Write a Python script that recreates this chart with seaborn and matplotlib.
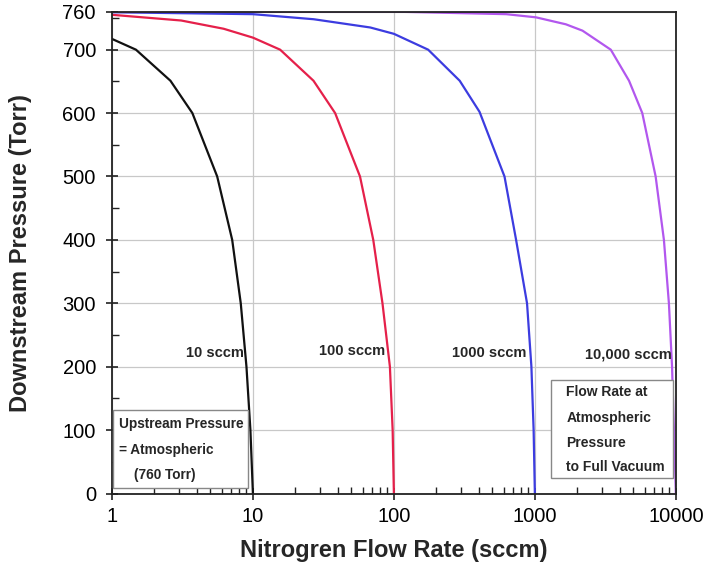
import numpy as np
import pandas as pd
import seaborn as sns
import matplotlib.pyplot as plt
from matplotlib.patches import Rectangle
from matplotlib.ticker import FixedLocator, NullFormatter, LogLocator

# ---------- data ----------
flow_10 = [1, 1.48, 2.6, 3.72, 5.58, 7.13, 8.2, 9.0, 9.6, 10]
press_10 = [717, 700, 651, 600, 500, 400, 300, 200, 100, 0]

flow_100 = [1, 3.1, 6.2, 10, 15.6, 26.9, 38.3, 57.5, 71.4, 83, 93.7, 98, 100]
press_100 = [755, 746, 733, 719, 700, 651, 600, 500, 400, 300, 200, 100, 0]

flow_1000 = [1, 10, 27, 68, 100, 175, 293, 405, 609, 736, 880, 945, 980, 1000]
press_1000 = [759, 756, 748, 735, 725, 700, 651, 602, 500, 400, 300, 200, 100, 0]

flow_10000 = [1, 100, 626, 1019, 1660, 2177, 3455, 4656, 5780, 7190, 8230, 8930, 9400, 9700, 10000]
press_10000 = [760, 760, 756, 751, 740, 730, 700, 651, 600, 500, 400, 300, 200, 100, 0]

series_names = ["10 sccm", "100 sccm", "1000 sccm", "10,000 sccm"]
series_colors = ["#111111", "#e5204a", "#3c3ce0", "#b257ee"]

df = pd.concat([
    pd.DataFrame({"flow": flow_10, "pressure": press_10, "series": series_names[0]}),
    pd.DataFrame({"flow": flow_100, "pressure": press_100, "series": series_names[1]}),
    pd.DataFrame({"flow": flow_1000, "pressure": press_1000, "series": series_names[2]}),
    pd.DataFrame({"flow": flow_10000, "pressure": press_10000, "series": series_names[3]}),
], ignore_index=True)

y_ticks = [0, 100, 200, 300, 400, 500, 600, 700, 760]
x_ticks = [1, 10, 100, 1000, 10000]
x_ticklabels = ["1", "10", "100", "1000", "10000"]

# ---------- plot ----------
sns.set_theme(style="white")
plt.rcParams["font.family"] = ["Liberation Sans", "DejaVu Sans"]

fig = plt.figure(figsize=(7.04, 5.73), dpi=100)
ax = fig.add_axes([0.159, 0.1387, 0.801, 0.841])

sns.lineplot(
    data=df, x="flow", y="pressure", hue="series",
    palette=dict(zip(series_names, series_colors)),
    sort=False, estimator=None, linewidth=1.6, legend=False, ax=ax
)

ax.set_xscale("log")
ax.set_xlim(1, 10000)
ax.set_ylim(0, 760)

ax.xaxis.set_major_locator(FixedLocator(x_ticks))
ax.set_xticklabels(x_ticklabels)
ax.xaxis.set_minor_locator(LogLocator(base=10, subs=np.arange(2, 10)))
ax.xaxis.set_minor_formatter(NullFormatter())
ax.set_yticks(y_ticks)
ax.yaxis.set_minor_locator(FixedLocator([50, 150, 250, 350, 450, 550, 650, 750]))

ax.grid(True, which="major", color="#c8c8c8", linewidth=0.9)
for s in ax.spines.values():
    s.set_color("#222222")
    s.set_linewidth(1.3)

ax.tick_params(axis="both", which="major", direction="inout", length=9, width=1.2,
               colors="#222222", labelsize=14.5, labelcolor="black", pad=5,
               bottom=True, left=True)
ax.tick_params(axis="y", which="major", pad=7)
ax.tick_params(axis="both", which="minor", direction="in", length=5, width=1.0,
               colors="#222222", bottom=True, left=True)

ax.set_xlabel("Nitrogren Flow Rate (sccm)", fontsize=17, fontweight="bold")
ax.set_ylabel("Downstream Pressure (Torr)", fontsize=17, fontweight="bold")
ax.xaxis.set_label_coords(0.5, -0.094)
ax.yaxis.set_label_coords(-0.142, 0.5)

# curve labels
label_x = [8.6, 86, 871, 9370]
label_y = [222, 225, 222, 220]
for name, lx, ly in zip(series_names, label_x, label_y):
    ax.text(lx, ly, name, ha="right", va="center", fontsize=10.5, fontweight="bold")

# note boxes
ax.add_patch(Rectangle((0.002, 0.011), 0.239, 0.162, transform=ax.transAxes,
                       facecolor="white", edgecolor="#888888", linewidth=1.0, zorder=3))
box1_lines = ["Upstream Pressure", "= Atmospheric", "(760 Torr)"]
box1_x = [0.012, 0.012, 0.039]
box1_y = [0.144, 0.090, 0.038]
for t, bx, by in zip(box1_lines, box1_x, box1_y):
    ax.text(bx, by, t, transform=ax.transAxes, ha="left", va="center",
            fontsize=9.8, fontweight="bold", zorder=4)

ax.add_patch(Rectangle((0.778, 0.032), 0.217, 0.203, transform=ax.transAxes,
                       facecolor="white", edgecolor="#888888", linewidth=1.0, zorder=3))
box2_lines = ["Flow Rate at", "Atmospheric", "Pressure", "to Full Vacuum"]
box2_y = [0.211, 0.157, 0.105, 0.055]
for t, by in zip(box2_lines, box2_y):
    ax.text(0.806, by, t, transform=ax.transAxes, ha="left", va="center",
            fontsize=10, fontweight="bold", zorder=4)

fig.savefig("out.png", dpi=100)
